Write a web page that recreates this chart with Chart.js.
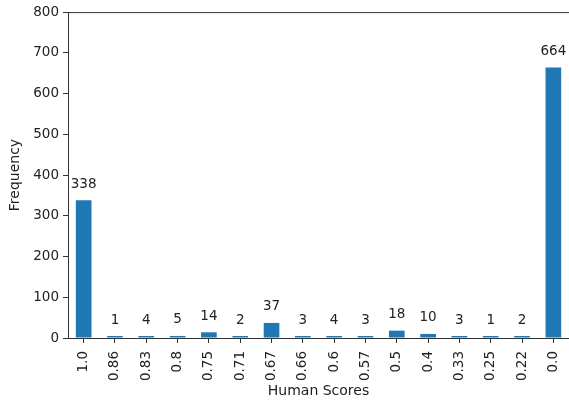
<!DOCTYPE html>
<html>
<head>
<meta charset="utf-8">
<script src="https://cdn.jsdelivr.net/npm/chart.js@4"></script>
<style>
html,body{margin:0;padding:0;background:#fff;}
#wrap{width:569px;height:406px;}
</style>
</head>
<body>
<div id="wrap"><canvas id="c" width="569" height="406"></canvas></div>
<script>
const categories = ["1.0","0.86","0.83","0.8","0.75","0.71","0.67","0.66","0.6","0.57","0.5","0.4","0.33","0.25","0.22","0.0"];
const frequencies = [338,1,4,5,14,2,37,3,4,3,18,10,3,1,2,664];
const yTicks = [0,100,200,300,400,500,600,700,800];

const FONT = "'DejaVu Sans', sans-serif";
const TXT = '#222';

const frameAndLabels = {
  id: 'frameAndLabels',
  afterDatasetsDraw(chart) {
    const ctx = chart.ctx;
    const a = chart.chartArea;
    ctx.save();
    ctx.strokeStyle = '#333';
    ctx.lineWidth = 1;
    ctx.beginPath();
    ctx.moveTo(a.left, a.top + 0.5);
    ctx.lineTo(a.right, a.top + 0.5);
    ctx.stroke();
    ctx.fillStyle = TXT;
    ctx.font = '13.5px ' + FONT;
    ctx.textAlign = 'center';
    ctx.textBaseline = 'middle';
    const meta = chart.getDatasetMeta(0);
    const y0 = chart.scales.y.getPixelForValue(0);
    meta.data.forEach((bar, i) => {
      const top = Math.min(bar.y, y0 - 1);
      ctx.fillText(String(frequencies[i]), bar.x, top - 16);
    });
    ctx.restore();
  }
};

new Chart(document.getElementById('c'), {
  type: 'bar',
  data: {
    labels: categories,
    datasets: [{
      data: frequencies,
      backgroundColor: '#1f77b4',
      borderWidth: 0,
      barPercentage: 0.5,
      categoryPercentage: 1.0,
      minBarLength: 2
    }]
  },
  options: {
    responsive: false,
    animation: false,
    layout: { padding: { top: 12, right: 0, left: 0, bottom: 0 } },
    plugins: { legend: { display: false }, tooltip: { enabled: false } },
    scales: {
      x: {
        offset: true,
        grid: { display: true, drawOnChartArea: false, drawTicks: true, tickLength: 5, color: '#333', offset: false },
        border: { display: true, color: '#333', width: 1 },
        ticks: { color: TXT, font: { family: FONT, size: 13.5 }, minRotation: 90, maxRotation: 90, padding: 8, autoSkip: false },
        title: { display: true, text: 'Human Scores', color: TXT, font: { family: FONT, size: 14 }, padding: { top: 2, bottom: 6 } },
        afterFit(scale) { scale.height = 68; scale.paddingLeft = 0; scale.paddingRight = 0; }
      },
      y: {
        min: 0, max: 800,
        afterBuildTicks(scale) { scale.ticks = yTicks.map(v => ({ value: v })); },
        grid: { display: true, drawOnChartArea: false, drawTicks: true, tickLength: 5, color: '#333' },
        border: { display: true, color: '#333', width: 1 },
        ticks: { color: TXT, font: { family: FONT, size: 13.5 }, padding: 4 },
        title: { display: true, text: 'Frequency', color: TXT, font: { family: FONT, size: 14 }, padding: { top: 7, bottom: 2 } },
        afterFit(scale) { scale.width = 68; }
      }
    }
  },
  plugins: [frameAndLabels]
});
</script>
</body>
</html>
